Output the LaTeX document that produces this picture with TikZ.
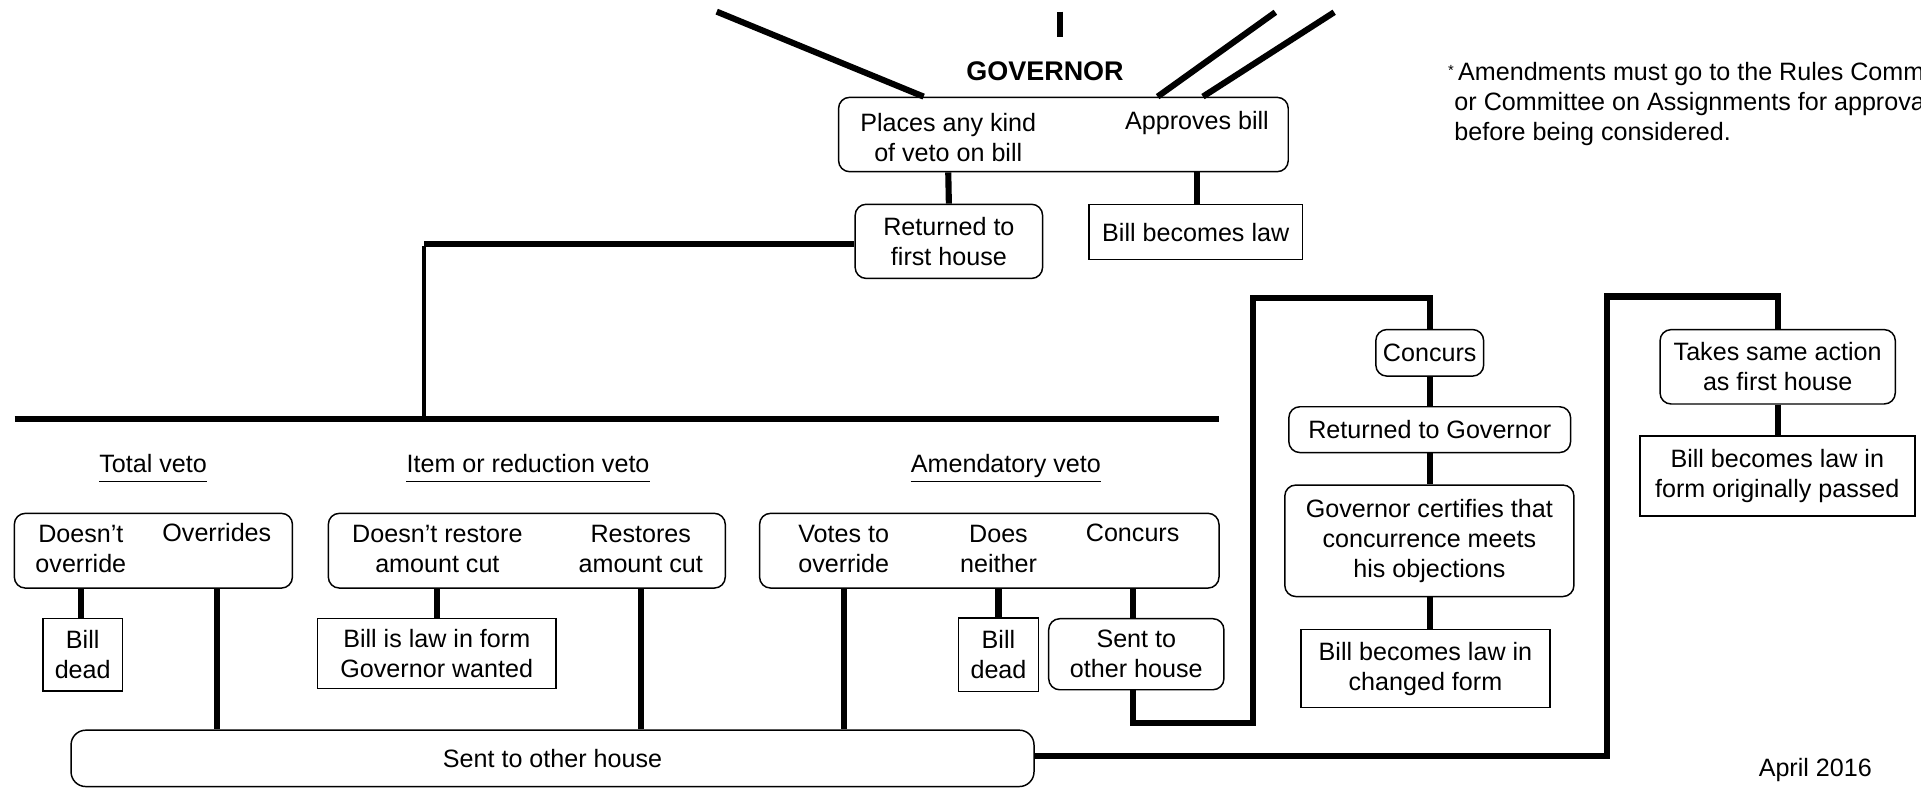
\documentclass[tikz,border=0pt]{standalone}
\usepackage{fontspec}
\setmainfont{Liberation Sans}
\begin{document}
\begin{tikzpicture}[x=1pt,y=-1pt,
  txt/.style={inner sep=0pt, align=center, font=\fontsize{20.5}{24.5}\selectfont},
  head/.style={txt, anchor=base},
  rbox/.style={draw, line width=1.2pt, rounded corners=9pt, inner sep=0pt},
  sbox/.style={draw, line width=1.2pt, inner sep=0pt},
  wh/.style 2 args={minimum width=#1, minimum height=#2},
  conn/.style={line width=5pt},
  thinconn/.style={line width=3.5pt},
  uline/.style={line width=1pt}]
\useasboundingbox (0,0) rectangle (1568,646);
\clip (0,0) rectangle (1568,646);

% ---------- top ----------
\node[txt, font=\fontsize{22}{26}\selectfont\bfseries] (gov) at (853,58.5) {GOVERNOR};
\node[rbox, wh={367pt}{60.7pt}] (veto) at (868,109.8) {};
\node[txt] (places) at (774,112) {Places any kind\\of veto on bill};
\node[txt] (appr) at (977,100) {Approves bill};
\node[rbox, txt, wh={153pt}{60.5pt}] (ret) at (774.5,197) {Returned to\\first house};
\node[sbox, txt, wh={174pt}{45pt}] (law1) at (976,189.5) {Bill becomes law};

\coordinate (tl) at (585,9.5);
\coordinate (tv1) at (865.5,9.5);
\coordinate (tv2) at (865.5,30);
\coordinate (tr1) at (1041,10);
\coordinate (tr2) at (1089,10);
\draw[conn] (tl) -- ([xshift=70pt]veto.north west);
\draw[conn] (tv1) -- (tv2);
\draw[conn] (tr1) -- ([xshift=261pt]veto.north west);
\draw[conn] (tr2) -- ([xshift=298pt]veto.north west);
\draw[conn] (places |- veto.south) -- (ret.north);
\draw[conn] (appr |- veto.south) -- (appr |- law1.north);

\coordinate (hj) at (346,342);
\coordinate (hL) at (12,342);
\coordinate (hR) at (995,342);
\draw[conn] (hL) -- (hR);
\draw[conn] ([yshift=-2pt]ret.west) -- ([yshift=-2pt]ret.west -| hj);
\draw[thinconn] ([yshift=-3.5pt]ret.west -| hj) -- (hj);

% ---------- headings ----------
\node[head] (tvh) at (125,385.5) {Total veto};
\node[head] (irh) at (431,385.5) {Item or reduction veto};
\node[head] (avh) at (821,385.5) {Amendatory veto};
\foreach \h in {tvh,irh,avh}
  \draw[uline] ([yshift=-7.5pt]\h.base west) -- ([yshift=-7.5pt]\h.base east);

% ---------- total veto ----------
\node[rbox, wh={227pt}{61pt}] (tbox) at (125.2,449.5) {};
\node[txt] (doesnt) at (66,448) {Doesn't\\override};
\node[txt] (overr) at (177,435) {Overrides};
\node[sbox, txt, wh={65pt}{59pt}] (dead1) at (67.5,534.5) {Bill\\dead};

% ---------- item veto ----------
\node[rbox, wh={324pt}{61pt}] (ibox) at (430,449.5) {};
\node[txt] (dnr) at (357,448) {Doesn't restore\\amount cut};
\node[txt] (rest) at (523,448) {Restores\\amount cut};
\node[sbox, txt, wh={195pt}{57pt}] (lawgov) at (356.5,533.5) {Bill is law in form\\Governor wanted};

% ---------- amendatory veto ----------
\node[rbox, wh={375pt}{61pt}] (abox) at (807.5,449.5) {};
\node[txt] (votes) at (688.7,448) {Votes to\\override};
\node[txt] (neither) at (815,448) {Does\\neither};
\node[txt] (conc) at (924.5,435) {Concurs};
\node[sbox, txt, wh={65pt}{60pt}] (dead2) at (815,534.5) {Bill\\dead};
\node[rbox, txt, wh={143pt}{58pt}] (sent2) at (927.5,534) {Sent to\\other house};

% ---------- sent to other house ----------
\node[rbox, rounded corners=12pt, txt, wh={786pt}{46pt}] (sent) at (451,619) {Sent to other house};

\draw[conn] (doesnt |- tbox.south) -- (doesnt |- dead1.north);
\draw[conn] (overr |- tbox.south) -- (overr |- sent.north);
\draw[conn] (dnr |- ibox.south) -- (dnr |- lawgov.north);
\draw[conn] (rest |- ibox.south) -- (rest |- sent.north);
\draw[conn] (votes |- abox.south) -- (votes |- sent.north);
\draw[conn] (neither |- abox.south) -- (neither |- dead2.north);
\draw[conn] (conc |- abox.south) -- (conc |- sent2.north);

% ---------- right column (concurs) ----------
\node[rbox, txt, wh={88pt}{38pt}] (concurs) at (1167,288) {Concurs};
\node[rbox, txt, wh={230pt}{37.4pt}] (retgov) at (1167,350.7) {Returned to Governor};
\node[rbox, txt, wh={236pt}{91pt}] (cert) at (1166.7,441.4) {Governor certifies that\\concurrence meets\\his objections};
\node[sbox, txt, wh={203pt}{63.5pt}] (law3) at (1163.5,545.7) {Bill becomes law in\\changed form};

\coordinate (l1a) at (1022.5,590);
\coordinate (l1b) at (1022.5,243.5);
\draw[conn] (conc |- sent2.south) |- (l1a) -- (l1b) -| (concurs.north);
\draw[conn] (concurs.south) -- (concurs.south |- retgov.north);
\draw[conn] (concurs.south |- retgov.south) -- (concurs.south |- cert.north);
\draw[conn] (concurs.south |- cert.south) -- (concurs.south |- law3.north);

% ---------- far right ----------
\node[rbox, txt, wh={192pt}{60.7pt}] (takes) at (1451,299.4) {Takes same action\\as first house};
\node[sbox, txt, wh={224.5pt}{65pt}] (law4) at (1450.7,388.5) {Bill becomes law in\\form originally passed};
\coordinate (l2a) at (1311.6,617);
\coordinate (l2b) at (1311.6,242);
\draw[conn] (sent.east |- l2a) -- (l2a) -- (l2b) -| (takes.north);
\draw[conn] (takes.south) -- (takes.south |- law4.north);

% ---------- notes ----------
\node[txt, align=left, anchor=north west] (note) at (1187,50.5)
  {\llap{\raisebox{4pt}{\fontsize{12}{12}\selectfont *}\hspace{0.5pt}}\hspace{3pt}Amendments must go to the Rules Committee\\or Committee on Assignments for approval\\before being considered.};
\node[txt] (date) at (1481.7,628.3) {April 2016};
\end{tikzpicture}
\end{document}
